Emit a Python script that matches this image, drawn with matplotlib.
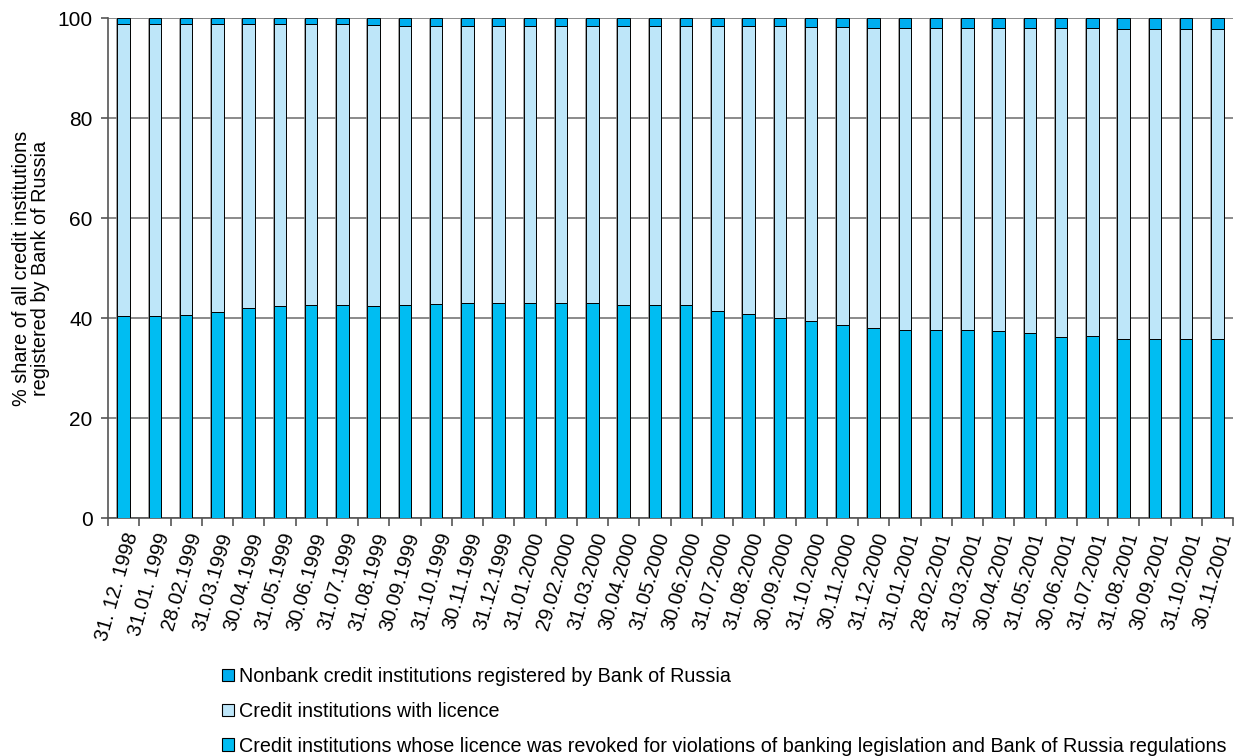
import numpy as np
from matplotlib import pyplot as plt
from matplotlib.patches import Patch

dates = [
    '31. 12. 1998', '31.01. 1999', '28.02.1999', '31.03.1999', '30.04.1999', '31.05.1999',
    '30.06.1999', '31.07.1999', '31.08.1999', '30.09.1999', '31.10.1999', '30.11.1999',
    '31.12.1999', '31.01.2000', '29.02.2000', '31.03.2000', '30.04.2000', '31.05.2000',
    '30.06.2000', '31.07.2000', '31.08.2000', '30.09.2000', '31.10.2000', '30.11.2000',
    '31.12.2000', '31.01.2001', '28.02.2001', '31.03.2001', '30.04.2001', '31.05.2001',
    '30.06.2001', '31.07.2001', '31.08.2001', '30.09.2001', '31.10.2001', '30.11.2001',
]

# bottom segment: licence revoked
revoked = [
    40.5, 40.5, 40.7, 41.3, 42.1, 42.5, 42.6, 42.6, 42.5, 42.6, 42.9, 43.0,
    43.1, 43.1, 43.1, 43.0, 42.6, 42.6, 42.6, 41.5, 40.9, 40.1, 39.4, 38.6,
    38.1, 37.7, 37.7, 37.7, 37.5, 37.0, 36.3, 36.5, 35.8, 35.8, 35.8, 35.9,
]
# top segment: nonbank credit institutions
nonbank = [
    1.2, 1.2, 1.2, 1.2, 1.2, 1.2, 1.2, 1.2, 1.4, 1.5, 1.5, 1.5,
    1.5, 1.5, 1.5, 1.5, 1.6, 1.6, 1.6, 1.6, 1.6, 1.6, 1.8, 1.8,
    2.0, 2.0, 2.0, 2.0, 2.0, 2.0, 2.0, 2.0, 2.1, 2.1, 2.1, 2.1,
]
revoked = np.array(revoked)
nonbank = np.array(nonbank)
licensed = 100 - revoked - nonbank

c_bottom = '#00bdf2'
c_mid = '#bee6f9'
c_top = '#00aeef'

plt.rcParams['font.family'] = ['Liberation Sans', 'DejaVu Sans']

fig = plt.figure(figsize=(12.36, 7.56), dpi=100)
ax = fig.add_axes([108 / 1236, 1 - 518 / 756, (1233 - 108) / 1236, 500 / 756])

x = np.arange(len(dates))
w = 0.40

# grey shadow like the original Excel bars
ax.bar(x, 100, width=w + 0.07, color='#8a8a8a', zorder=2, alpha=0.8)
ax.bar(x, revoked, width=w, color=c_bottom, edgecolor='black', linewidth=0.7, zorder=3)
ax.bar(x, licensed, width=w, bottom=revoked, color=c_mid, edgecolor='black', linewidth=0.7, zorder=3)
ax.bar(x, nonbank, width=w, bottom=revoked + licensed, color=c_top, edgecolor='black',
       linewidth=0.7, zorder=3)

ax.set_xlim(-0.5, len(dates) - 0.5)
ax.set_ylim(0, 100)
ax.set_yticks(np.arange(0, 101, 20))
ax.yaxis.grid(True, color='#777777', linewidth=1.2)
ax.set_axisbelow(True)

# category tick marks between bars, labels at bar centres
ax.set_xticks(x)
ax.set_xticklabels(dates, rotation=74, ha='right', rotation_mode='anchor', fontsize=14.5)
ax.set_xticks(np.arange(-0.5, len(dates)), minor=True)
ax.tick_params(axis='x', which='major', length=0, pad=9)
ax.tick_params(axis='x', which='minor', length=6, width=1.2, color='#555555', direction='out')
ax.tick_params(axis='y', length=5, width=1.2, color='#555555', labelsize=15, pad=6)

for s in ['top', 'right']:
    ax.spines[s].set_visible(False)
for s in ['left', 'bottom']:
    ax.spines[s].set_color('#555555')
    ax.spines[s].set_linewidth(1.2)

ax.set_ylabel('% share of all credit institutions\nregistered by Bank of Russia', fontsize=14.3,
              linespacing=1.05)
ax.yaxis.label.set_va('center')
ax.yaxis.set_label_coords(-0.0685, 0.5)

handles = [
    Patch(facecolor=c_top, edgecolor='black', linewidth=0.8),
    Patch(facecolor=c_mid, edgecolor='black', linewidth=0.8),
    Patch(facecolor=c_bottom, edgecolor='black', linewidth=0.8),
]
labels = [
    'Nonbank credit institutions registered by Bank of Russia',
    'Credit institutions with licence',
    'Credit institutions whose licence was revoked for violations of banking legislation and Bank of Russia regulations',
]
fig.legend(handles, labels, loc='upper left', bbox_to_anchor=(222 / 1236, 1 - 667 / 756),
           frameon=False, fontsize=14.25, handlelength=0.6, handleheight=0.6, handletextpad=0.25,
           labelspacing=0.8, borderpad=0, borderaxespad=0)

fig.savefig('out.png', dpi=100)
